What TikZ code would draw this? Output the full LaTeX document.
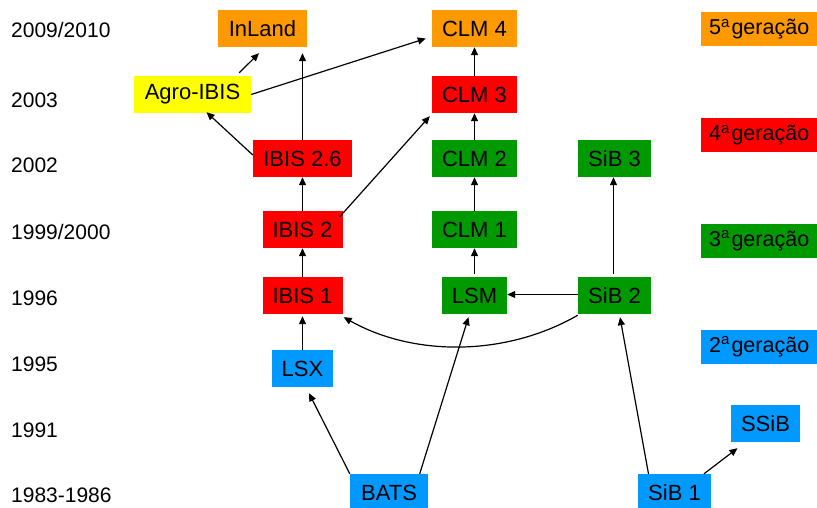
\documentclass[tikz,border=0pt]{standalone}
\usepackage{fontspec}
\setmainfont{Liberation Sans}
\usetikzlibrary{arrows.meta,calc}
\definecolor{cOrange}{RGB}{255,153,0}
\definecolor{cYellow}{RGB}{255,255,0}
\definecolor{cRed}{RGB}{255,0,0}
\definecolor{cGreen}{RGB}{0,153,0}
\definecolor{cBlue}{RGB}{0,153,255}
\begin{document}
\begin{tikzpicture}[x=1pt,y=-1pt,
  box/.style={rectangle,inner sep=0pt,minimum height=37pt,font=\fontsize{22}{26}\selectfont},
  genbox/.style={rectangle,inner sep=0pt,minimum height=34pt,minimum width=120pt},
  gentext/.style={anchor=west,inner sep=0pt,font=\fontsize{21.5}{25}\selectfont},
  year/.style={anchor=west,inner sep=0pt,font=\fontsize{21}{25}\selectfont},
  arr/.style={line width=1.2pt,-{Triangle[length=8pt,width=7pt]}}]
\useasboundingbox (0,0) rectangle (817,508);
\clip (0,0) rectangle (817,508);
% years
\node[year] (y1) at (11,30) {2009/2010};
\node[year] (y2) at (11,100) {2003};
\node[year] (y3) at (11,165) {2002};
\node[year] (y4) at (11,232) {1999/2000};
\node[year] (y5) at (11,298) {1996};
\node[year] (y6) at (11,364) {1995};
\node[year] (y7) at (11,430) {1991};
\node[year] (y8) at (11,495) {1983-1986};
% generation legend
\node[genbox,fill=cOrange,anchor=west] (g5) at (701,29) {};
\node[genbox,fill=cRed,anchor=west] (g4) at (701,135) {};
\node[genbox,fill=cGreen,anchor=west] (g3) at (701,240.5) {};
\node[genbox,fill=cBlue,anchor=west] (g2) at (701,346.5) {};
\node[gentext] (t5) at (709,29) {5\textsuperscript{a}\hspace{1.5pt}geração};
\node[gentext] (t4) at (709,135) {4\textsuperscript{a}\hspace{1.5pt}geração};
\node[gentext] (t3) at (709,240.5) {3\textsuperscript{a}\hspace{1.5pt}geração};
\node[gentext] (t2) at (709,346.5) {2\textsuperscript{a}\hspace{1.5pt}geração};
% models
\node[box,fill=cOrange,minimum width=89pt] (inland) at (262.5,28.5) {InLand};
\node[box,fill=cOrange,minimum width=85pt] (clm4) at (474.5,28.5) {CLM 4};
\node[box,fill=cYellow,minimum width=117pt] (agro) at (192.5,94.5) {Agro-IBIS};
\node[box,fill=cRed,minimum width=85pt] (clm3) at (474.5,94.5) {CLM 3};
\node[box,fill=cRed,minimum width=99pt] (ibis26) at (302.5,158.5) {IBIS 2.6};
\node[box,fill=cGreen,minimum width=85pt] (clm2) at (474.5,158.5) {CLM 2};
\node[box,fill=cGreen,minimum width=73pt] (sib3) at (614.5,158.5) {SiB 3};
\node[box,fill=cRed,minimum width=80pt] (ibis2) at (302.5,229.5) {IBIS 2};
\node[box,fill=cGreen,minimum width=85pt] (clm1) at (474.5,229.5) {CLM 1};
\node[box,fill=cRed,minimum width=80pt] (ibis1) at (302.5,295.5) {IBIS 1};
\node[box,fill=cGreen,minimum width=65pt] (lsm) at (474.5,295.5) {LSM};
\node[box,fill=cGreen,minimum width=73pt] (sib2) at (614.5,295.5) {SiB 2};
\node[box,fill=cBlue,minimum width=61pt] (lsx) at (302.5,368.5) {LSX};
\node[box,fill=cBlue,minimum width=69pt] (ssib) at (765.5,423.5) {SSiB};
\node[box,fill=cBlue,minimum width=78pt] (bats) at (389,492.5) {BATS};
\node[box,fill=cBlue,minimum width=73pt] (sib1) at (674.5,492.5) {SiB 1};
% connectors
\draw[arr] ([xshift=-12pt,yshift=3pt]agro.north east) -- ([xshift=-3.5pt,yshift=-6pt]inland.south);
\draw[arr] (ibis26.north) -- ([yshift=-6pt]ibis26.north |- inland.south);
\draw[arr] (agro.east) -- ([xshift=-6pt,yshift=-10pt]clm4.west);
\draw[arr] ([yshift=3.5pt]ibis26.west) -- ([xshift=14pt,yshift=1pt]agro.south);
\draw[arr] ([xshift=-3pt,yshift=-6pt]ibis2.north east) -- ([xshift=-2pt,yshift=-3pt]clm3.south west);
\draw[arr] (ibis1.north) -- (ibis1.north |- ibis2.south);
\draw[arr] (ibis2.north) -- (ibis2.north |- ibis26.south);
\draw[arr] (lsx.north) -- ([yshift=-2pt]lsx.north |- ibis1.south);
\draw[arr] (clm3.north) -- (clm4.south);
\draw[arr] (clm2.north) -- (clm3.south);
\draw[arr] (clm1.north) -- (clm2.south);
\draw[arr] ([yshift=3pt]lsm.north) -- (clm1.south);
\draw[arr] (sib2.west |- 0,294.5) -- (lsm.east |- 0,294.5);
\draw[arr] ([xshift=-1pt,yshift=3pt]sib2.north) -- ([xshift=-1pt]sib3.south);
\draw[arr] ([yshift=-1pt]sib2.south west) .. controls +(-73,42) and +(69,39) .. ([xshift=1pt,yshift=-3pt]ibis1.south east);
\draw[arr] (bats.north west) -- ([xshift=6.5pt,yshift=-6pt]lsx.south);
\draw[arr] ([xshift=-8.5pt]bats.north east) -- ([xshift=-6pt,yshift=-3pt]lsm.south);
\draw[arr] ([xshift=-26pt]sib1.north) -- ([xshift=5.5pt,yshift=-3pt]sib2.south);
\draw[arr] ([xshift=29.5pt]sib1.north) -- ([xshift=-28pt,yshift=-6pt]ssib.south);
\end{tikzpicture}
\end{document}
